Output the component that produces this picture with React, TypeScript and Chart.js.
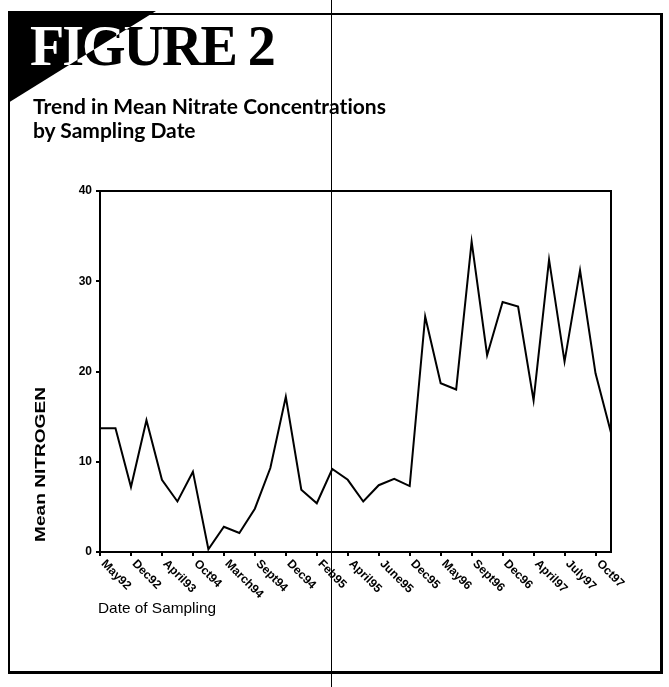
import React, { useEffect, useRef } from "react";
import { Chart, registerables } from "chart.js";

Chart.register(...registerables);

// ---- data ----
const tickLabels: string[] = [
  "May92", "Dec92", "April93", "Oct94", "March94", "Sept94", "Dec94", "Feb95",
  "April95", "June95", "Dec95", "May96", "Sept96", "Dec96", "April97", "July97", "Oct97",
];

const meanNitrogen: number[] = [
  13.7, 13.7, 7.2, 14.6, 8.0, 5.6, 8.9, 0.3, 2.8, 2.1, 4.8, 9.3, 17.2, 6.9, 5.4, 9.2, 8.0,
  5.6, 7.4, 8.1, 7.3, 26.1, 18.7, 18.0, 34.4, 21.8, 27.7, 27.2, 16.8, 32.4, 21.1, 31.2, 19.8, 13.2,
];

const yTicks: number[] = [0, 10, 20, 30, 40];

const titleText = "FIGURE 2";
const subtitleLines: string[] = ["Trend in Mean Nitrate Concentrations", "by Sampling Date"];
const yTitle = "Mean NITROGEN";
const xTitle = "Date of Sampling";

// one category per sample; every second sample carries a date label
const categories: string[] = meanNitrogen.map((_, i) => (i % 2 === 0 ? tickLabels[i / 2] ?? "" : ""));

const decorPlugin = {
  id: "decor",
  afterDraw(chart: any) {
    const { ctx, chartArea } = chart;
    const xs = chart.scales.x;
    ctx.save();
    // plot box (top + right)
    ctx.strokeStyle = "#000";
    ctx.lineWidth = 2;
    ctx.beginPath();
    ctx.moveTo(chartArea.left, chartArea.top);
    ctx.lineTo(chartArea.right, chartArea.top);
    ctx.lineTo(chartArea.right, chartArea.bottom);
    ctx.stroke();

    // rotated x labels, reading downward to the right
    ctx.fillStyle = "#000";
    ctx.font = "bold 12px 'Liberation Sans', Arial, sans-serif";
    ctx.textAlign = "left";
    ctx.textBaseline = "middle";
    categories.forEach((lab, i) => {
      if (!lab) return;
      const x = xs.getPixelForValue(i);
      ctx.save();
      ctx.translate(x + 3, chartArea.bottom + 10);
      ctx.rotate(Math.PI / 4);
      ctx.fillText(lab, 0, 0);
      ctx.restore();
    });

    // y title
    ctx.save();
    ctx.font = "bold 15px 'Liberation Sans', Arial, sans-serif";
    ctx.translate(41, chartArea.bottom - 10);
    ctx.rotate(-Math.PI / 2);
    ctx.textAlign = "left";
    ctx.textBaseline = "middle";
    const w = ctx.measureText(yTitle).width;
    ctx.scale(155 / w, 1);
    ctx.fillText(yTitle, 0, 0);
    ctx.restore();

    // x title
    ctx.save();
    ctx.font = "15px 'Liberation Sans', Arial, sans-serif";
    ctx.textAlign = "left";
    ctx.textBaseline = "middle";
    ctx.translate(98, 609);
    const w2 = ctx.measureText(xTitle).width;
    ctx.scale(118 / w2, 1);
    ctx.fillText(xTitle, 0, 0);
    ctx.restore();

    ctx.restore();
  },
};

function NitrateChart() {
  const ref = useRef<HTMLCanvasElement | null>(null);
  useEffect(() => {
    if (!ref.current) return;
    const chart = new Chart(ref.current, {
      type: "line",
      data: {
        labels: categories,
        datasets: [
          {
            data: meanNitrogen,
            borderColor: "#000",
            borderWidth: 2,
            pointRadius: 0,
            tension: 0,
            fill: false,
          },
        ],
      },
      options: {
        responsive: false,
        animation: false,
        devicePixelRatio: 1,
        layout: { padding: { top: 191, right: 58, bottom: 0, left: 0 } },
        plugins: { legend: { display: false }, tooltip: { enabled: false }, title: { display: false } },
        scales: {
          x: {
            type: "category",
            offset: false,
            grid: {
              drawOnChartArea: false,
              drawTicks: true,
              tickLength: 4,
              lineWidth: 2,
              color: (c: any) => (c.index % 2 === 0 ? "#000" : "rgba(0,0,0,0)"),
            },
            border: { display: true, color: "#000", width: 2 },
            ticks: { display: false, autoSkip: false },
            afterFit: (s: any) => {
              s.height = 135;
            },
          },
          y: {
            min: yTicks[0],
            max: yTicks[yTicks.length - 1],
            afterBuildTicks: (s: any) => {
              s.ticks = yTicks.map((v) => ({ value: v }));
            },
            ticks: {
              color: "#000",
              padding: 4,
              font: { family: "'Liberation Sans', Arial, sans-serif", size: 12, weight: "bold" },
            },
            grid: { drawOnChartArea: false, tickLength: 4, lineWidth: 2, color: "#000" },
            border: { display: true, color: "#000", width: 2 },
            afterFit: (s: any) => {
              s.width = 100;
            },
          },
        },
      },
      plugins: [decorPlugin],
    });
    return () => chart.destroy();
  }, []);
  return <canvas ref={ref} width={669} height={687} style={{ position: "absolute", left: 0, top: 0 }} />;
}

export default function App() {
  return (
    <div
      style={{
        position: "fixed",
        left: 0,
        top: 0,
        width: 669,
        height: 687,
        background: "#fff",
        overflow: "hidden",
        isolation: "isolate",
      }}
    >
      {/* outer frame */}
      <div
        style={{
          position: "absolute",
          left: 8,
          top: 13,
          width: 650,
          height: 656,
          borderTop: "2px solid #000",
          borderLeft: "2px solid #000",
          borderBottom: "3px solid #000",
          borderRight: "3px solid #000",
        }}
      />
      {/* corner triangle */}
      <div
        style={{
          position: "absolute",
          left: 8,
          top: 11,
          width: 148,
          height: 92,
          background: "#000",
          clipPath: "polygon(0 0, 100% 0, 0 100%)",
        }}
      />
      <NitrateChart />
      {/* title with inverted colour over the triangle */}
      <div
        style={{
          position: "absolute",
          left: 30,
          top: 16,
          font: "bold 56px 'Liberation Serif', 'Times New Roman', serif",
          letterSpacing: -2,
          lineHeight: "60px",
          color: "#fff",
          mixBlendMode: "difference",
          whiteSpace: "nowrap",
        }}
      >
        {titleText}
      </div>
      <div
        style={{
          position: "absolute",
          left: 33,
          top: 94,
          font: "bold 21px Lato, 'Open Sans', sans-serif",
          lineHeight: "24px",
          fontVariantLigatures: "none",
          color: "#000",
          whiteSpace: "nowrap",
        }}
      >
        {subtitleLines.map((l, i) => (
          <div key={i}>{l}</div>
        ))}
      </div>
      {/* scan fold line */}
      <div style={{ position: "absolute", left: 331, top: 0, width: 1, height: 687, background: "#000" }} />
    </div>
  );
}
